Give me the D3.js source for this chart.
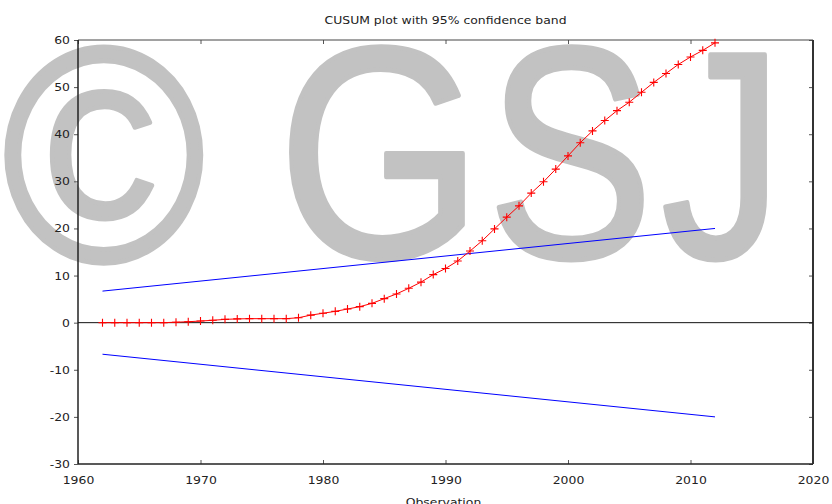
<!DOCTYPE html>
<html lang="en">
<head>
<meta charset="UTF-8">
<title>CUSUM plot</title>
<style>
  body { margin: 0; background: #fff; }
  svg text { font-family: "DejaVu Sans", Verdana, sans-serif; fill: #222; }
</style>
</head>
<body>
<svg width="832" height="504"></svg>
<script src="https://d3js.org/d3.v7.min.js"></script>
<script>

    // observation years and cusum values
    var years = [1962, 1963, 1964, 1965, 1966, 1967, 1968, 1969, 1970, 1971,
                 1972, 1973, 1974, 1975, 1976, 1977, 1978, 1979, 1980, 1981,
                 1982, 1983, 1984, 1985, 1986, 1987, 1988, 1989, 1990, 1991,
                 1992, 1993, 1994, 1995, 1996, 1997, 1998, 1999, 2000, 2001,
                 2002, 2003, 2004, 2005, 2006, 2007, 2008, 2009, 2010, 2011, 2012];
    var cusum = [0, 0, 0, 0, 0, 0, 0.1, 0.2, 0.35, 0.5,
                 0.7, 0.8, 0.85, 0.85, 0.85, 0.85, 1.05, 1.6, 2.0, 2.4,
                 2.9, 3.4, 4.1, 5.1, 6.1, 7.3, 8.6, 10.2, 11.5, 13.1,
                 15.2, 17.4, 19.9, 22.4, 24.8, 27.5, 29.9, 32.6, 35.4, 38.2,
                 40.7, 42.9, 45.0, 46.8, 48.9, 51.0, 52.9, 54.8, 56.4, 57.8, 59.4];

    // confidence band end points
    var bandYears = [1962, 2012];
    var bandUpper = [6.7, 20.0];
    var bandLower = [-6.7, -20.0];

    var xTicks = [1960, 1970, 1980, 1990, 2000, 2010, 2020];
    var yTicks = [-30, -20, -10, 0, 10, 20, 30, 40, 50, 60];

    var title = "CUSUM plot with 95% confidence band";
    var xLabel = "Observation";
    var watermark = ["\u00a9", "G", "S", "J"];

    var svg = d3.select("svg"),
        margin = {top: 40, right: 19, bottom: 40, left: 78},
        width = 832 - margin.left - margin.right,
        height = 504 - margin.top - margin.bottom,
        stretch = 1.13;

    var x = d3.scaleLinear().domain([1960, 2020]).range([margin.left, margin.left + width]);
    var y = d3.scaleLinear().domain([-30, 60]).range([margin.top + height, margin.top]);

    // watermark, each glyph fitted into the box it covers in the picture
    // (regular weight, thickened with a stroke, so the boxes are shrunk by half of it)
    var wmBoxes = [[0, 207, 43, 268], [288, 465, 43, 264], [493, 645, 43, 264], [663, 770, 48, 264]];
    var wmPad = 2.2;
    var ctx = document.createElement("canvas").getContext("2d");
    var wmFont = "300px 'Liberation Sans', Arial, sans-serif";
    ctx.font = wmFont;
    var wm = svg.append("g");
    watermark.forEach(function(ch, i) {
        var m = ctx.measureText(ch), b = wmBoxes[i];
        var x0 = b[0] + wmPad, x1 = b[1] - wmPad, y0 = b[2] + wmPad, y1 = b[3] - wmPad;
        var L = m.actualBoundingBoxLeft, R = m.actualBoundingBoxRight,
            A = m.actualBoundingBoxAscent, D = m.actualBoundingBoxDescent;
        var sx = (x1 - x0) / (L + R), sy = (y1 - y0) / (A + D);
        wm.append("text")
            .attr("transform", "translate(" + (x0 + L * sx) + "," + (y0 + A * sy) + ") scale(" + sx + "," + sy + ")")
            .style("font", wmFont)
            .style("fill", "#c2c2c2")
            .style("stroke", "#c2c2c2")
            .style("stroke-width", 2 * wmPad / ((sx + sy) / 2))
            .style("stroke-linejoin", "round")
            .text(ch);
    });

    var fmt = function(d) { return String(d); };

    // axes
    var yAxis = svg.append("g")
        .attr("transform", "translate(" + margin.left + ",0)")
        .call(d3.axisLeft(y).tickValues(yTicks).tickFormat(fmt).tickSize(4).tickPadding(4));
    var xAxis = svg.append("g")
        .attr("transform", "translate(0," + (margin.top + height) + ")")
        .call(d3.axisBottom(x).tickValues(xTicks).tickFormat(fmt).tickSize(-4).tickPadding(12));
    // mirrored ticks on top and right
    svg.append("g")
        .attr("transform", "translate(0," + margin.top + ")")
        .call(d3.axisTop(x).tickValues(xTicks).tickSize(-4).tickFormat(""));
    svg.append("g")
        .attr("transform", "translate(" + (margin.left + width) + ",0)")
        .call(d3.axisRight(y).tickValues(yTicks).tickSize(-4).tickFormat(""));

    svg.selectAll(".domain").remove();
    svg.selectAll(".tick line").attr("stroke", "#555");
    svg.selectAll(".tick text")
        .style("font-size", "11px")
        .attr("fill", "#222");
    yAxis.selectAll(".tick text")
        .attr("x", -8 / stretch)
        .attr("transform", "scale(" + stretch + ",1)");
    xAxis.selectAll(".tick text")
        .attr("transform", "scale(" + stretch + ",1)");

    // frame
    svg.append("line").attr("x1", x(1960)).attr("x2", x(2020)).attr("y1", y(60)).attr("y2", y(60))
        .attr("stroke", "#444").attr("stroke-width", 1);
    svg.append("line").attr("x1", x(1960)).attr("x2", x(2020)).attr("y1", y(-30)).attr("y2", y(-30))
        .attr("stroke", "#222").attr("stroke-width", 1.5);
    svg.append("line").attr("x1", x(1960)).attr("x2", x(1960)).attr("y1", y(60)).attr("y2", y(-30))
        .attr("stroke", "#222").attr("stroke-width", 1.5);
    svg.append("line").attr("x1", x(2020)).attr("x2", x(2020)).attr("y1", y(60)).attr("y2", y(-30))
        .attr("stroke", "#333").attr("stroke-width", 2);

    // zero line
    svg.append("line").attr("x1", x(1960)).attr("x2", x(2020)).attr("y1", y(0)).attr("y2", y(0))
        .attr("stroke", "#111").attr("stroke-width", 1);

    // confidence band
    var band = d3.line().x(function(d) { return x(d[0]); }).y(function(d) { return y(d[1]); });
    [bandUpper, bandLower].forEach(function(vals) {
        svg.append("path")
            .datum(bandYears.map(function(yr, i) { return [yr, vals[i]]; }))
            .attr("d", band)
            .attr("fill", "none")
            .attr("stroke", "#0000ff")
            .attr("stroke-width", 1);
    });

    // cusum line and markers
    var pts = years.map(function(yr, i) { return [yr, cusum[i]]; });
    svg.append("path")
        .datum(pts)
        .attr("d", band)
        .attr("fill", "none")
        .attr("stroke", "#ff0000")
        .attr("stroke-width", 1);
    svg.append("g").selectAll("path")
        .data(pts)
        .join("path")
        .attr("d", function(d) {
            var px = x(d[0]), py = y(d[1]), s = 4;
            return "M" + (px - s) + "," + py + "H" + (px + s) + "M" + px + "," + (py - s) + "V" + (py + s);
        })
        .attr("stroke", "#ff0000")
        .attr("stroke-width", 1.1);

    // title and axis label
    svg.append("text")
        .attr("transform", "translate(" + (margin.left + width / 2) + ",24) scale(" + stretch + ",1)")
        .attr("text-anchor", "middle")
        .style("font-size", "11px")
        .text(title);
    svg.append("text")
        .attr("transform", "translate(" + (margin.left + width / 2 - 2) + ",506) scale(" + stretch + ",1)")
        .attr("text-anchor", "middle")
        .style("font-size", "11px")
        .text(xLabel);

</script>
</body>
</html>
